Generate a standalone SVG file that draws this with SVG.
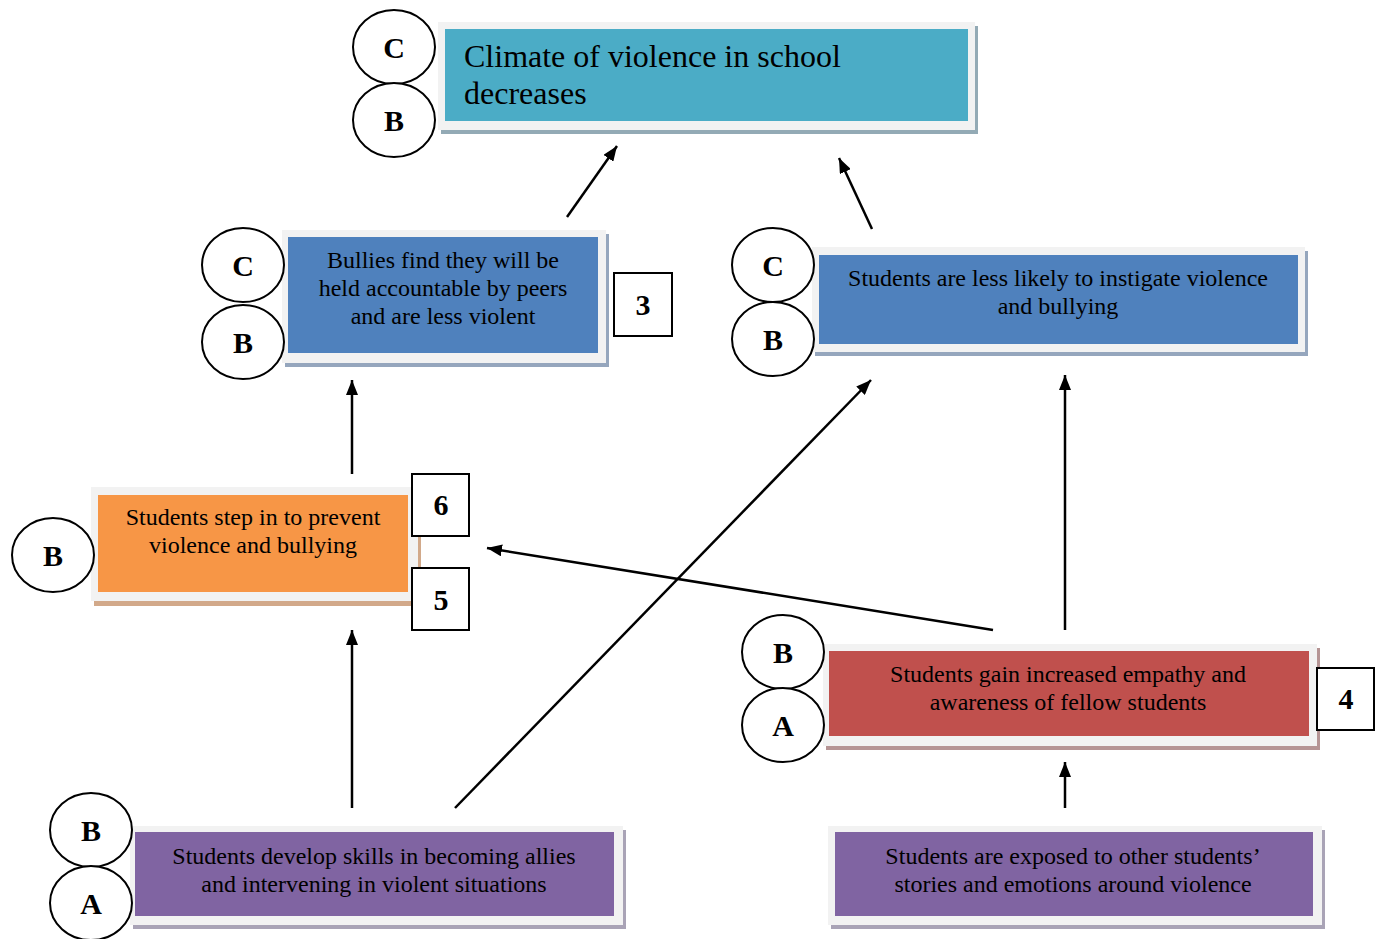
<svg xmlns="http://www.w3.org/2000/svg" width="1378" height="939" viewBox="0 0 1378 939">
<defs>
<style>
.frame{fill:#f2f2f2}
.t{font-family:"Liberation Serif","Times New Roman",serif;font-size:24px;fill:#000;text-anchor:middle}
.big{font-family:"Liberation Serif","Times New Roman",serif;font-size:32px;fill:#000}
.lbl{font-family:"Liberation Serif","Times New Roman",serif;font-size:30px;font-weight:bold;fill:#000;text-anchor:middle}
.el{fill:#fff;stroke:#000;stroke-width:2}
.sq{fill:#fff;stroke:#000;stroke-width:2}
.conn line{stroke:#000;stroke-width:2.5;marker-end:url(#ah)}
</style>
<marker id="ah" markerUnits="userSpaceOnUse" markerWidth="16" markerHeight="12" refX="15" refY="6" orient="auto">
<path d="M0,0 L15,6 L0,12 z" fill="#000"/>
</marker>
</defs>
<rect width="1378" height="939" fill="#fff"/>

<g id="climate">
<rect x="441" y="26" width="537" height="108" fill="#93aab5"/>
<rect x="438" y="22" width="537" height="108" class="frame"/>
<rect x="445" y="29" width="523" height="92" fill="#4bacc6"/>
<text class="big" x="464" y="67">Climate of violence in school</text>
<text class="big" x="464" y="104">decreases</text>
<ellipse class="el" cx="394" cy="47" rx="41" ry="37"/>
<text class="lbl" x="394" y="58">C</text>
<ellipse class="el" cx="394" cy="120" rx="41" ry="37"/>
<text class="lbl" x="394" y="131">B</text>
</g>

<g id="bullies">
<rect x="285" y="234" width="324" height="133" fill="#95a6bd"/>
<rect x="282" y="230" width="324" height="133" class="frame"/>
<rect x="288" y="237" width="310" height="116" fill="#4f81bd"/>
<text class="t" x="443" y="268">Bullies find they will be</text>
<text class="t" x="443" y="296">held accountable by peers</text>
<text class="t" x="443" y="324">and are less violent</text>
<ellipse class="el" cx="243" cy="265" rx="41" ry="37"/>
<text class="lbl" x="243" y="276">C</text>
<ellipse class="el" cx="243" cy="342" rx="41" ry="37"/>
<text class="lbl" x="243" y="353">B</text>
<rect class="sq" x="614" y="273" width="58" height="63"/>
<text class="lbl" x="643" y="315">3</text>
</g>

<g id="less-likely">
<rect x="815" y="251" width="493" height="105" fill="#95a6bd"/>
<rect x="812" y="247" width="493" height="105" class="frame"/>
<rect x="819" y="255" width="479" height="89" fill="#4f81bd"/>
<text class="t" x="1058" y="286">Students are less likely to instigate violence</text>
<text class="t" x="1058" y="314">and bullying</text>
<ellipse class="el" cx="773" cy="265" rx="41" ry="37"/>
<text class="lbl" x="773" y="276">C</text>
<ellipse class="el" cx="773" cy="339" rx="41" ry="37"/>
<text class="lbl" x="773" y="350">B</text>
</g>

<g id="step-in">
<rect x="94" y="491" width="327" height="115" fill="#d2a98a"/>
<rect x="91" y="487" width="327" height="114" class="frame"/>
<rect x="98" y="495" width="310" height="97" fill="#f79646"/>
<text class="t" x="253" y="525">Students step in to prevent</text>
<text class="t" x="253" y="553">violence and bullying</text>
<ellipse class="el" cx="53" cy="555" rx="41" ry="37"/>
<text class="lbl" x="53" y="566">B</text>
<rect class="sq" x="412" y="474" width="57" height="62"/>
<text class="lbl" x="441" y="515">6</text>
<rect class="sq" x="412" y="568" width="57" height="62"/>
<text class="lbl" x="441" y="610">5</text>
</g>

<g id="empathy">
<rect x="826" y="648" width="494" height="102" fill="#b59494"/>
<rect x="823" y="644" width="494" height="102" class="frame"/>
<rect x="829" y="651" width="480" height="85" fill="#c0504d"/>
<text class="t" x="1068" y="682">Students gain increased empathy and</text>
<text class="t" x="1068" y="710">awareness of fellow students</text>
<ellipse class="el" cx="783" cy="652" rx="41" ry="37"/>
<text class="lbl" x="783" y="663">B</text>
<ellipse class="el" cx="783" cy="725" rx="41" ry="37"/>
<text class="lbl" x="783" y="736">A</text>
<rect class="sq" x="1317" y="668" width="57" height="62"/>
<text class="lbl" x="1346" y="709">4</text>
</g>

<g id="skills">
<rect x="133" y="830" width="493" height="99" fill="#a9a3b6"/>
<rect x="130" y="826" width="493" height="99" class="frame"/>
<rect x="135" y="832" width="479" height="84" fill="#8064a2"/>
<text class="t" x="374" y="864">Students develop skills in becoming allies</text>
<text class="t" x="374" y="892">and intervening in violent situations</text>
<ellipse class="el" cx="91" cy="830" rx="41" ry="37"/>
<text class="lbl" x="91" y="841">B</text>
<ellipse class="el" cx="91" cy="903" rx="41" ry="37"/>
<text class="lbl" x="91" y="914">A</text>
</g>

<g id="exposed">
<rect x="831" y="830" width="494" height="99" fill="#a9a3b6"/>
<rect x="828" y="826" width="494" height="99" class="frame"/>
<rect x="835" y="832" width="478" height="84" fill="#8064a2"/>
<text class="t" x="1073" y="864">Students are exposed to other students’</text>
<text class="t" x="1073" y="892">stories and emotions around violence</text>
</g>

<g id="connectors" class="conn">
<line x1="567" y1="217" x2="617" y2="146"/>
<line x1="872" y1="229" x2="839" y2="158"/>
<line x1="352" y1="474" x2="352" y2="380"/>
<line x1="455" y1="808" x2="871" y2="380"/>
<line x1="1065" y1="630" x2="1065" y2="375"/>
<line x1="993" y1="630" x2="487" y2="548"/>
<line x1="352" y1="808" x2="352" y2="630"/>
<line x1="1065" y1="808" x2="1065" y2="762"/>
</g>
</svg>
